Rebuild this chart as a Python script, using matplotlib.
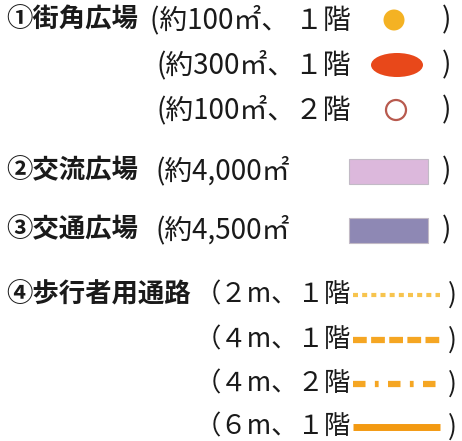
import matplotlib.pyplot as plt
from matplotlib.patches import Circle, Ellipse, Rectangle

plt.rcParams['font.family'] = ['Noto Sans CJK JP', 'DejaVu Sans']

# 凡例の内容
headers = ['①街角広場', '', '', '②交流広場', '③交通広場', '④歩行者用通路', '', '', '']
details = ['(約100㎡、 １階', '(約300㎡、１階', '(約100㎡、２階',
           '(約4,000㎡', '(約4,500㎡',
           '（２m、１階', '（４m、１階', '（４m、２階', '（６m、１階']
kinds = ['dot', 'ellipse', 'ring', 'rect', 'rect', 'line', 'line', 'line', 'line']
colors = ['#F4B223', '#E8481A', '#B85A4E', '#DCB8DC', '#8E88B4',
          '#F7C44E', '#F5A623', '#F5A623', '#F39A12']

# レイアウト（ピクセル）
row_y = [20, 65, 110, 171, 230, 295, 340, 384, 427]
close_x = [447, 447, 447, 447, 447, 452, 452, 452, 452]
dash_styles = [(0, (1.2, 1.0)), (0, (2.2, 0.7)), (0, (2.0, 1.5, 0.6, 1.5)), '-']
line_widths = [3.0, 4.5, 4.5, 5.0]

fig = plt.figure(figsize=(4.62, 4.41), dpi=100)
ax = fig.add_axes([0, 0, 1, 1])
ax.set_xlim(0, 462)
ax.set_ylim(441, 0)
ax.axis('off')

li = 0
for i, y in enumerate(row_y):
    fs = 20 if i < 5 else 19
    if headers[i]:
        ax.text(6, y, headers[i], fontsize=19, fontweight='bold', color='#1a1a1a',
                va='center', ha='left')
    if kinds[i] == 'rect':
        ax.text(155, y, details[i], fontsize=fs, color='#1a1a1a', va='center', ha='left')
    else:
        ax.text(351, y, details[i], fontsize=fs, color='#1a1a1a', va='center', ha='right')
    ax.text(close_x[i], y, ')', fontsize=fs, color='#1a1a1a', va='center', ha='center')

    k = kinds[i]
    if k == 'dot':
        ax.add_patch(Circle((394, y), 10.5, color=colors[i], lw=0))
    elif k == 'ellipse':
        ax.add_patch(Ellipse((397, y), 52, 24, color=colors[i], lw=0))
    elif k == 'ring':
        ax.add_patch(Circle((396, y), 10, facecolor='white', edgecolor=colors[i], lw=1.6))
    elif k == 'rect':
        ax.add_patch(Rectangle((349, y - 12), 79, 25, facecolor=colors[i],
                               edgecolor='#c2bac6', lw=0.8))
    else:
        ax.plot([353, 440], [y, y], color=colors[i], lw=line_widths[li],
                linestyle=dash_styles[li], solid_capstyle='butt')
        li += 1

fig.savefig('out.png', dpi=100, facecolor='white')
